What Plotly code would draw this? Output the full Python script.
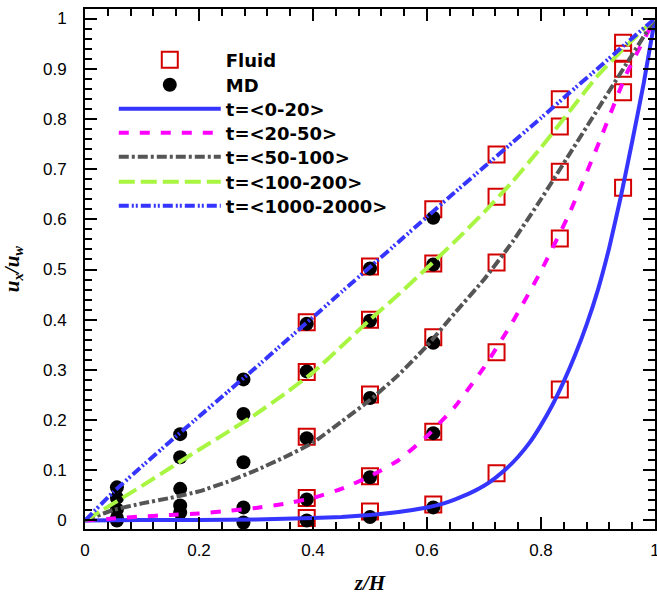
import plotly.graph_objects as go

# ---------------- data ----------------
z_grid = [0, 0.05, 0.1, 0.15, 0.2, 0.25, 0.3, 0.35, 0.4, 0.45, 0.5,
          0.55, 0.6, 0.65, 0.7, 0.75, 0.8, 0.85, 0.9, 0.95, 1.0]

z_t0 = [0, 0.1, 0.2, 0.3, 0.4, 0.45, 0.5, 0.55, 0.6, 0.62, 0.64, 0.66, 0.68, 0.7,
        0.72, 0.74, 0.76, 0.78, 0.8, 0.82, 0.84, 0.86, 0.88, 0.9, 0.92, 0.94,
        0.96, 0.98, 1.0]
u_t0 = [0, 0.001, 0.001, 0.002, 0.005, 0.007, 0.011, 0.017, 0.026, 0.031, 0.038, 0.047, 0.057, 0.069,
        0.085, 0.104, 0.127, 0.155, 0.19, 0.23, 0.277, 0.33, 0.39, 0.46, 0.545, 0.645,
        0.755, 0.87, 1.0]

u_t20 = [0, 0.004, 0.008, 0.011, 0.014, 0.019, 0.025, 0.033, 0.045, 0.063, 0.088,
         0.12, 0.168, 0.228, 0.305, 0.395, 0.497, 0.612, 0.748, 0.89, 1.0]

u_t50 = [0, 0.021, 0.034, 0.045, 0.058, 0.077, 0.1, 0.126, 0.155, 0.197, 0.24,
         0.29, 0.348, 0.415, 0.48, 0.555, 0.64, 0.73, 0.82, 0.91, 1.0]

u_t100 = [0, 0.034, 0.069, 0.105, 0.141, 0.176, 0.212, 0.252, 0.295, 0.347, 0.4,
          0.45, 0.503, 0.557, 0.614, 0.675, 0.743, 0.815, 0.887, 0.946, 1.0]

u_t1000 = [0, 0.057, 0.108, 0.158, 0.207, 0.256, 0.305, 0.355, 0.405, 0.455, 0.505,
           0.555, 0.605, 0.655, 0.704, 0.753, 0.802, 0.852, 0.901, 0.951, 1.0]

fluid_z = [0.389, 0.5, 0.611, 0.722, 0.833, 0.944]
fluid_t0 = [0.005, 0.018, 0.032, 0.094, 0.261, 0.663]
fluid_t20 = [0.045, 0.088, 0.177, 0.335, 0.562, 0.853]
fluid_t50 = [0.167, 0.251, 0.365, 0.514, 0.695, 0.9]
fluid_t100 = [0.296, 0.4, 0.512, 0.645, 0.785, 0.93]
fluid_t1000 = [0.395, 0.506, 0.62, 0.729, 0.839, 0.952]

md_z = [0.056, 0.167, 0.278, 0.389, 0.5, 0.611]
md_t0 = [0.0, 0.016, -0.004, 0.0, 0.007, 0.026]
md_t20 = [0.005, 0.03, 0.026, 0.042, 0.086, 0.174]
md_t50 = [0.022, 0.063, 0.116, 0.164, 0.244, 0.354]
md_t100 = [0.045, 0.126, 0.212, 0.297, 0.398, 0.51]
md_t1000 = [0.066, 0.172, 0.281, 0.392, 0.502, 0.603]

labels = ["t=&lt;0-20&gt;", "t=&lt;20-50&gt;", "t=&lt;50-100&gt;",
          "t=&lt;100-200&gt;", "t=&lt;1000-2000&gt;"]

# ---------------- figure ----------------
fig = go.Figure()

legend_ids = ["legend", "legend2", "legend3", "legend4", "legend5", "legend6", "legend7"]

fx = fluid_z * 5
fy = fluid_t0 + fluid_t20 + fluid_t50 + fluid_t100 + fluid_t1000
fig.add_trace(go.Scatter(
    x=fx, y=fy, mode="markers", name="<b>Fluid</b>", legend=legend_ids[0],
    marker=dict(symbol="square-open", size=16, color="#d40000",
                line=dict(width=2, color="#d40000"))))

mx = md_z * 5
my = md_t0 + md_t20 + md_t50 + md_t100 + md_t1000
fig.add_trace(go.Scatter(
    x=mx, y=my, mode="markers", name="<b>MD</b>", legend=legend_ids[1],
    marker=dict(symbol="circle", size=14, color="black")))

line_specs = [
    (z_t0, u_t0, labels[0], "#3535ff", "solid"),
    (z_grid, u_t20, labels[1], "#ff00ff", "10px,11px"),
    (z_grid, u_t50, labels[2], "#555555", "10px,3px,3px,3px"),
    (z_grid, u_t100, labels[3], "#a8f542", "16px,6px"),
    (z_grid, u_t1000, labels[4], "#3535ff", "10px,3px,2px,2px,2px,3px"),
]
for i, (zz, uu, nm, col, dash) in enumerate(line_specs):
    fig.add_trace(go.Scatter(
        x=zz, y=uu, mode="lines", name="<b>" + nm + "</b>", legend=legend_ids[i + 2],
        line=dict(color=col, width=4, dash=dash, shape="spline", smoothing=0.4)))

tickfont = dict(family="Liberation Sans, Arial, sans-serif", size=17, color="black")
titlefont = dict(family="Liberation Serif, Times New Roman, serif", size=21, color="black")
legfont = dict(family="DejaVu Sans, Liberation Sans, sans-serif", size=18, color="black")

# legend rows (pixel centres) -> paper coordinates
row_px = [60, 85, 109, 133, 157, 182, 206]
PLOT_TOP, PLOT_H = 9, 520
leg_layout = {}
for lid, yc in zip(legend_ids, row_px):
    leg_layout[lid] = dict(
        x=0.0505, y=(PLOT_TOP + PLOT_H - yc) / PLOT_H,
        xanchor="left", yanchor="middle",
        bgcolor="rgba(0,0,0,0)", borderwidth=0,
        font=legfont, itemwidth=102)

fig.update_layout(
    width=657, height=604,
    margin=dict(l=85, r=2, t=PLOT_TOP, b=75),
    paper_bgcolor="white", plot_bgcolor="white",
    showlegend=True,
    **leg_layout,
    xaxis=dict(
        range=[0, 1], tickmode="array",
        tickvals=[0, 0.2, 0.4, 0.6, 0.8, 1.0],
        ticktext=["0", "0.2", "0.4", "0.6", "0.8", "1"],
        ticks="inside", ticklen=12, tickwidth=1.5, tickcolor="black",
        minor=dict(dtick=0.04, tick0=0, ticks="inside", ticklen=7, tickwidth=1.5, tickcolor="black"),
        showline=True, linecolor="black", linewidth=2, mirror="ticks",
        showgrid=False, zeroline=False, automargin=False,
        ticklabeloverflow="allow",
        tickfont=tickfont, ticklabelstandoff=5,
        title=dict(text="<b><i>z/H</i></b>", font=titlefont, standoff=16),
    ),
    yaxis=dict(
        range=[-0.017, 1.019], tickmode="array",
        tickvals=[0, 0.1, 0.2, 0.3, 0.4, 0.5, 0.6, 0.7, 0.8, 0.9, 1.0],
        ticktext=["0", "0.1", "0.2", "0.3", "0.4", "0.5", "0.6", "0.7", "0.8", "0.9", "1"],
        ticks="inside", ticklen=12, tickwidth=1.5, tickcolor="black",
        minor=dict(dtick=0.02, tick0=0, ticks="inside", ticklen=7, tickwidth=1.5, tickcolor="black"),
        showline=True, linecolor="black", linewidth=2, mirror="ticks",
        showgrid=False, zeroline=False, automargin=False,
        ticklabeloverflow="allow",
        tickfont=tickfont, ticklabelstandoff=13,
        title=dict(text="<b><i>u<sub>x</sub>/u<sub>w</sub></i></b>", font=titlefont, standoff=21),
    ),
)

fig.write_html(
    "out.html",
    config={"displayModeBar": False},
    post_script="document.body.style.margin='0';document.body.style.padding='0';"
                "document.body.style.overflow='hidden';",
)
